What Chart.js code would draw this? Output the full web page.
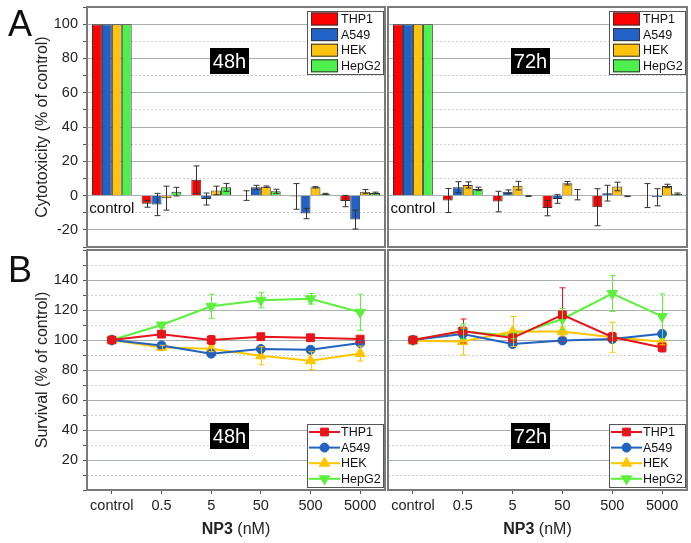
<!DOCTYPE html>
<html>
<head>
<meta charset="utf-8">
<title>NP3 cytotoxicity and survival</title>
<script src="https://cdn.jsdelivr.net/npm/chart.js@4.4.0/dist/chart.umd.min.js"></script>
<style>
  body { margin: 0; background: #fff; }
  #wrap { position: relative; width: 691px; height: 543px; }
  #wrap canvas { position: absolute; }
</style>
</head>
<body>
<div id="wrap">
  <canvas id="a48" width="386" height="248" style="left:0;top:0"></canvas>
  <canvas id="a72" width="305" height="248" style="left:386px;top:0"></canvas>
  <canvas id="b48" width="386" height="295" style="left:0;top:248px"></canvas>
  <canvas id="b72" width="305" height="295" style="left:386px;top:248px"></canvas>
</div>
<script>
'use strict';

const concentrations = ['control', '0.5', '5', '50', '500', '5000'];
const cellLines = ['THP1', 'A549', 'HEK', 'HepG2'];
const barColors = ['#ff0000', '#2262c6', '#ffc20e', '#4df04d'];
const lineColors = ['#e8141c', '#2262c0', '#ffc600', '#5cf03c'];
const markers = ['rect', 'circle', 'triangle', 'triangle'];

// cytotoxicity (% of control), 48 h
const thp1Cyto48 = [100, -4.8, 9.3, 0, -0.5, -3.2];
const a549Cyto48 = [100, -5.2, -2, 4.8, -10.5, -14];
const hekCyto48 = [100, -1.5, 3, 5.2, 4.8, 2.3];
const hepCyto48 = [100, 2.3, 4.8, 2.5, 1, 1.5];
const thp1Cyto48Err = [0, 2, 8, 2.8, 7.5, 3.3];
const a549Cyto48Err = [0, 6.5, 3.5, 1.2, 3, 5.5];
const hekCyto48Err = [0, 7, 2.5, 0.4, 0.4, 1.2];
const hepCyto48Err = [0, 2.5, 2.3, 1.2, 0.3, 0.5];

// cytotoxicity (% of control), 72 h
const thp1Cyto72 = [100, -2.9, -3.5, -7.3, -6.8, 0];
const a549Cyto72 = [100, 4.9, 2.3, -2, 1.4, -1];
const hekCyto72 = [100, 6.2, 5.8, 7.2, 5.3, 5.6];
const hepCyto72 = [100, 3.9, -0.3, 0.5, -0.4, 1];
const thp1Cyto72Err = [0, 7, 6, 4.5, 10.8, 7];
const a549Cyto72Err = [0, 3.2, 1, 2.5, 4.6, 5];
const hekCyto72Err = [0, 1.8, 2.5, 1, 2.5, 1];
const hepCyto72Err = [0, 1, 0.2, 3, 0.2, 0.5];

// survival (% of control), 48 h
const thp1Surv48 = [100, 103.9, 100, 102.2, 101.5, 100.6];
const a549Surv48 = [100, 96.4, 90.9, 94, 93.5, 98];
const hekSurv48 = [100, 95, 94.2, 89.5, 86.2, 91];
const hepSurv48 = [100, 110, 122.5, 126.5, 127.5, 118.5];
const thp1Surv48Err = [0, 1.5, 3, 1.5, 1.5, 1];
const a549Surv48Err = [0, 1, 1, 1, 1.5, 1.5];
const hekSurv48Err = [0, 1.5, 2, 6, 6, 5];
const hepSurv48Err = [0, 1.5, 8, 5, 3.5, 12];

// survival (% of control), 72 h
const thp1Surv72 = [100, 106, 101.3, 116.8, 102, 95];
const a549Surv72 = [100, 104, 97.3, 99.7, 100.6, 104.1];
const hekSurv72 = [99.5, 99, 105.7, 105.7, 101.8, 98.8];
const hepSurv72 = [100, 105.7, 102.8, 114, 131, 115.7];
const thp1Surv72Err = [0, 8, 3, 18, 3, 3];
const a549Surv72Err = [0, 3, 1.5, 1.5, 2, 1.5];
const hekSurv72Err = [0, 9, 10, 3, 10, 2];
const hepSurv72Err = [0, 5, 2, 7, 12, 15];

const FONT = "'Liberation Sans', Arial, sans-serif";

function gridColor(c) {
  if (!c.tick) return '#aaa';
  return c.tick.value % 20 === 0 ? '#aab0b0' : '#cfcfcf';
}
function gridDash(c) {
  if (!c.tick) return [];
  return c.tick.value % 20 === 0 ? [] : [2, 2];
}

function makeY(min, max, withLabels, titleText) {
  return {
    min: min,
    max: max,
    ticks: {
      stepSize: 10,
      autoSkip: false,
      display: withLabels,
      padding: 5,
      color: '#222',
      font: { family: FONT, size: 14.5 },
      callback: v => (v % 20 === 0 && v > min && v < max) ? String(v) : ''
    },
    grid: { color: gridColor, tickColor: '#555', drawTicks: withLabels, tickLength: 4 },
    border: { display: false, dash: gridDash },
    title: {
      display: !!titleText,
      text: titleText || '',
      color: '#222',
      font: { family: FONT, size: 16 },
      padding: { top: 33, bottom: 0 }
    },
    afterFit: s => {
      s.width = withLabels ? 87 : 2;
      s.paddingTop = 0;
      s.paddingBottom = 0;
    }
  };
}

// error bars drawn from the dataset's "errors" list
const errorBars = {
  id: 'errorBars',
  afterDatasetsDraw(chart) {
    const ctx = chart.ctx;
    const y = chart.scales.y;
    chart.data.datasets.forEach((ds, i) => {
      const meta = chart.getDatasetMeta(i);
      meta.data.forEach((el, j) => {
        const e = ds.errors[j];
        if (!e) return;
        const v = ds.data[j];
        const top = y.getPixelForValue(v + e);
        const bot = y.getPixelForValue(v - e);
        const x = Math.round(el.x) + 0.5;
        ctx.save();
        ctx.strokeStyle = ds.errorColor;
        ctx.lineWidth = 1;
        ctx.beginPath();
        ctx.moveTo(x, top); ctx.lineTo(x, bot);
        ctx.moveTo(x - 3, top); ctx.lineTo(x + 3, top);
        ctx.moveTo(x - 3, bot); ctx.lineTo(x + 3, bot);
        ctx.stroke();
        ctx.restore();
      });
    });
  }
};

function drawLegend(chart, where, kind) {
  const ctx = chart.ctx, a = chart.chartArea;
  const w = 76, h = 63;
  const x0 = Math.round(a.right - 78);
  const y0 = Math.round(where === 'top' ? a.top + 4 : a.bottom - 3 - h);
  ctx.save();
  ctx.fillStyle = '#fff';
  ctx.fillRect(x0, y0, w, h);
  ctx.strokeStyle = '#555';
  ctx.lineWidth = 1;
  ctx.strokeRect(x0 + 0.5, y0 + 0.5, w, h);
  ctx.font = '12.5px ' + FONT;
  ctx.textBaseline = 'middle';
  chart.data.datasets.forEach((ds, i) => {
    const cy = y0 + 8 + i * 15.6;
    if (kind === 'bar') {
      ctx.fillStyle = ds.backgroundColor;
      ctx.fillRect(x0 + 4, cy - 6.5, 27, 13);
      ctx.strokeStyle = '#333';
      ctx.strokeRect(x0 + 4.5, cy - 6, 26, 12);
    } else {
      ctx.strokeStyle = ds.borderColor;
      ctx.lineWidth = 2;
      ctx.beginPath();
      ctx.moveTo(x0 + 2, cy); ctx.lineTo(x0 + 33, cy);
      ctx.stroke();
      ctx.fillStyle = ds.borderColor;
      ctx.lineWidth = 1;
      Chart.helpers.drawPoint(ctx, {
        pointStyle: ds.pointStyle, rotation: ds.pointRotation || 0,
        radius: ds.pointRadius, borderWidth: 1
      }, x0 + 17.5, cy);
    }
    ctx.fillStyle = '#111';
    ctx.fillText(ds.label, x0 + 34, cy + 0.5);
  });
  ctx.restore();
}

const panelDeco = {
  id: 'panelDeco',
  afterDraw(chart, args, o) {
    const ctx = chart.ctx, a = chart.chartArea;
    ctx.save();
    // frame
    ctx.strokeStyle = '#7a7a7a';
    ctx.lineWidth = 2;
    ctx.strokeRect(a.left, a.top, a.right - a.left, a.bottom - a.top);

    // time tag
    const bx = Math.round(a.left + 123), by = Math.round(a.top + o.tagY - 13);
    ctx.fillStyle = '#000';
    ctx.fillRect(bx, by, 39, 26);
    ctx.fillStyle = '#fff';
    ctx.font = '20px ' + FONT;
    ctx.textAlign = 'center';
    ctx.textBaseline = 'middle';
    ctx.fillText(o.tag, bx + 19.5, by + 14);

    if (o.control) {
      ctx.fillStyle = '#111';
      ctx.font = '15px ' + FONT;
      ctx.fillText('control', chart.scales.x.getPixelForValue(0), chart.scales.y.getPixelForValue(0) + 13);
    }
    if (o.letter) {
      ctx.fillStyle = '#111';
      ctx.font = '36px ' + FONT;
      ctx.fillText(o.letter, 20, o.letterY);
    }
    if (o.xTitle) {
      const cx = (a.left + a.right) / 2, ty = a.bottom + 40;
      ctx.font = 'bold 16px ' + FONT;
      const w1 = ctx.measureText('NP3').width;
      ctx.font = '16px ' + FONT;
      const w2 = ctx.measureText(' (nM)').width;
      const sx = cx - (w1 + w2) / 2;
      ctx.textAlign = 'left';
      ctx.fillStyle = '#222';
      ctx.font = 'bold 16px ' + FONT;
      ctx.fillText('NP3', sx, ty);
      ctx.font = '16px ' + FONT;
      ctx.fillText(' (nM)', sx + w1, ty);
    }
    ctx.restore();
    drawLegend(chart, o.legend, chart.config.type);
  }
};

function barSets(series, errs) {
  return cellLines.map((name, i) => ({
    label: name,
    data: series[i],
    errors: errs[i],
    errorColor: '#333',
    backgroundColor: barColors[i],
    borderColor: '#333',
    borderWidth: 1,
    categoryPercentage: 0.8,
    barPercentage: 1.0
  }));
}

function lineSets(series, errs) {
  return cellLines.map((name, i) => ({
    label: name,
    data: series[i],
    errors: errs[i],
    errorColor: lineColors[i],
    borderColor: lineColors[i],
    backgroundColor: lineColors[i],
    borderWidth: 2,
    pointStyle: markers[i],
    pointRotation: i === 3 ? 180 : 0,
    pointRadius: i === 1 ? 4.5 : (i === 0 ? 5.5 : 6),
    pointBorderWidth: 1,
    tension: 0
  }));
}

function cytoChart(id, series, errs, left, tag) {
  return new Chart(document.getElementById(id), {
    type: 'bar',
    data: { labels: concentrations, datasets: barSets(series, errs) },
    options: {
      responsive: false,
      animation: false,
      layout: { autoPadding: false, padding: { top: 7, bottom: 1, left: 0, right: left ? 1 : 4 } },
      plugins: {
        legend: { display: false },
        tooltip: { enabled: false },
        panelDeco: { tag: tag, tagY: 54, legend: 'top', control: true, letter: left ? 'A' : null, letterY: 26 }
      },
      scales: {
        x: { display: false, offset: true },
        y: makeY(-30, 110, left, left ? 'Cytotoxicity (% of control)' : null)
      }
    },
    plugins: [errorBars, panelDeco]
  });
}

function survChart(id, series, errs, left, tag) {
  return new Chart(document.getElementById(id), {
    type: 'line',
    data: { labels: concentrations, datasets: lineSets(series, errs) },
    options: {
      responsive: false,
      animation: false,
      layout: { autoPadding: false, padding: { top: 2, bottom: 0, left: 0, right: left ? 1 : 4 } },
      plugins: {
        legend: { display: false },
        tooltip: { enabled: false },
        panelDeco: { tag: tag, tagY: 185.5, legend: 'bottom', control: false, letter: left ? 'B' : null, letterY: 24, xTitle: true }
      },
      scales: {
        x: {
          offset: true,
          grid: { display: true, drawOnChartArea: false, tickLength: 4, tickColor: '#555' },
          border: { display: false },
          ticks: { color: '#222', font: { family: FONT, size: 14.5 }, padding: 3, maxRotation: 0, autoSkip: false },
          afterFit: s => {
            s.height = 53;
            s.paddingLeft = 0;
            s.paddingRight = 0;
          }
        },
        y: makeY(0, 160, left, left ? 'Survival (% of control)' : null)
      }
    },
    plugins: [errorBars, panelDeco]
  });
}

cytoChart('a48', [thp1Cyto48, a549Cyto48, hekCyto48, hepCyto48],
  [thp1Cyto48Err, a549Cyto48Err, hekCyto48Err, hepCyto48Err], true, '48h');
cytoChart('a72', [thp1Cyto72, a549Cyto72, hekCyto72, hepCyto72],
  [thp1Cyto72Err, a549Cyto72Err, hekCyto72Err, hepCyto72Err], false, '72h');
survChart('b48', [thp1Surv48, a549Surv48, hekSurv48, hepSurv48],
  [thp1Surv48Err, a549Surv48Err, hekSurv48Err, hepSurv48Err], true, '48h');
survChart('b72', [thp1Surv72, a549Surv72, hekSurv72, hepSurv72],
  [thp1Surv72Err, a549Surv72Err, hekSurv72Err, hepSurv72Err], false, '72h');
</script>
</body>
</html>
